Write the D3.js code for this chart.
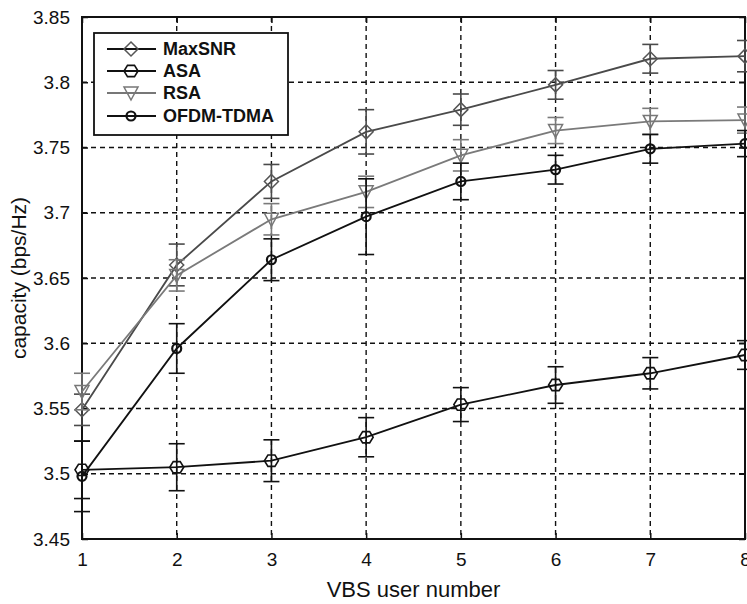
<!DOCTYPE html>
<html>
<head>
<meta charset="utf-8">
<script src="https://cdn.jsdelivr.net/npm/d3@7/dist/d3.min.js"></script>
<style>
  html, body { margin: 0; padding: 0; background: #fff; }
  svg { display: block; }
  text { font-family: "Liberation Sans", Arial, sans-serif; fill: #111; }
</style>
</head>
<body>
<svg id="chart" width="747" height="604"></svg>
<script>
// VBS user count on the x axis, capacity (bps/Hz) on the y axis
const users = [1, 2, 3, 4, 5, 6, 7, 8];

const maxSNR    = [3.549, 3.660, 3.724, 3.762, 3.779, 3.798, 3.818, 3.820];
const maxSNRErr = [0.012, 0.016, 0.013, 0.017, 0.012, 0.011, 0.011, 0.012];

const asa    = [3.503, 3.505, 3.510, 3.528, 3.553, 3.568, 3.577, 3.591];
const asaErr = [0.022, 0.018, 0.016, 0.015, 0.013, 0.014, 0.012, 0.011];

const rsa    = [3.563, 3.652, 3.695, 3.716, 3.744, 3.763, 3.770, 3.771];
const rsaErr = [0.014, 0.012, 0.012, 0.012, 0.012, 0.010, 0.010, 0.010];

const ofdm    = [3.498, 3.596, 3.664, 3.697, 3.724, 3.733, 3.749, 3.753];
const ofdmErr = [0.027, 0.019, 0.016, 0.029, 0.014, 0.011, 0.011, 0.010];

const seriesNames = ["MaxSNR", "ASA", "RSA", "OFDM-TDMA"];
const xTicks = [1, 2, 3, 4, 5, 6, 7, 8];
const yTicks = [3.45, 3.5, 3.55, 3.6, 3.65, 3.7, 3.75, 3.8, 3.85];

const series = [
  { name: seriesNames[0], values: maxSNR, err: maxSNRErr, line: "#4a4a4a", mark: "#555", legendLine: "#111", marker: "diamond" },
  { name: seriesNames[1], values: asa,    err: asaErr,    line: "#111",    mark: "#111", legendLine: "#111", marker: "hex" },
  { name: seriesNames[2], values: rsa,    err: rsaErr,    line: "#7a7a7a", mark: "#777", legendLine: "#777", marker: "tri" },
  { name: seriesNames[3], values: ofdm,   err: ofdmErr,   line: "#111",    mark: "#111", legendLine: "#111", marker: "dot" }
];

const L = 82, R = 745, T = 17, B = 539;
const svg = d3.select("#chart");
const x = d3.scaleLinear().domain([1, 8]).range([L, R]);
const y = d3.scaleLinear().domain([3.45, 3.85]).range([B, T]);

// dashed grid
const grid = svg.append("g").attr("stroke", "#111").attr("stroke-width", 1.4)
  .attr("stroke-dasharray", "5,4");
grid.selectAll("line.gx").data(xTicks.slice(1, -1)).join("line")
  .attr("x1", d => x(d)).attr("x2", d => x(d)).attr("y1", T).attr("y2", B);
grid.selectAll("line.gy").data(yTicks.slice(1, -1)).join("line")
  .attr("y1", d => y(d)).attr("y2", d => y(d)).attr("x1", L).attr("x2", R);

// axes
const xAxis = d3.axisBottom(x).tickValues(xTicks).tickSize(-6).tickPadding(14)
  .tickFormat(d3.format("d"));
const yAxis = d3.axisLeft(y).tickValues(yTicks).tickSize(-6).tickPadding(12)
  .tickFormat(d => String(+d.toFixed(2)));
const gx = svg.append("g").attr("transform", `translate(0,${B})`).call(xAxis);
const gy = svg.append("g").attr("transform", `translate(${L},0)`).call(yAxis);
const gxTop = svg.append("g").attr("transform", `translate(0,${T})`)
  .call(d3.axisTop(x).tickValues(xTicks).tickSize(-6).tickFormat(""));
const gyRight = svg.append("g").attr("transform", `translate(${R},0)`)
  .call(d3.axisRight(y).tickValues(yTicks).tickSize(-6).tickFormat(""));
[gx, gy, gxTop, gyRight].forEach(g => {
  g.select(".domain").remove();
  g.selectAll(".tick line").attr("stroke", "#111").attr("stroke-width", 1.5);
  g.selectAll(".tick text").style("font-size", "19px").attr("fill", "#222");
});

// frame
svg.append("rect").attr("x", L).attr("y", T).attr("width", R - L).attr("height", B - T)
  .attr("fill", "none").attr("stroke", "#111").attr("stroke-width", 2);

// marker shapes
function drawMarker(g, type, cx, cy, color) {
  if (type === "diamond") {
    g.append("path").attr("d", `M${cx},${cy - 7}L${cx + 7},${cy}L${cx},${cy + 7}L${cx - 7},${cy}Z`)
      .attr("fill", "none").attr("stroke", color).attr("stroke-width", 1.5);
  } else if (type === "hex") {
    const pts = d3.range(6).map(i => {
      const a = Math.PI / 3 * i;
      return [cx + 7 * Math.cos(a), cy + 6.5 * Math.sin(a)];
    });
    g.append("path").attr("d", "M" + pts.join("L") + "Z")
      .attr("fill", "none").attr("stroke", color).attr("stroke-width", 1.6);
  } else if (type === "tri") {
    g.append("path").attr("d", `M${cx - 7},${cy - 6}L${cx + 7},${cy - 6}L${cx},${cy + 7}Z`)
      .attr("fill", "none").attr("stroke", color).attr("stroke-width", 1.5);
  } else {
    g.append("circle").attr("cx", cx).attr("cy", cy).attr("r", 4.5)
      .attr("fill", "none").attr("stroke", color).attr("stroke-width", 2.2);
  }
}

// series: lines, error bars, markers
const line = d3.line().x(d => x(d[0])).y(d => y(d[1]));
series.forEach(s => {
  const g = svg.append("g");
  const pts = users.map((u, i) => [u, s.values[i]]);
  g.append("path").attr("d", line(pts)).attr("fill", "none")
    .attr("stroke", s.line).attr("stroke-width", 1.8);
  users.forEach((u, i) => {
    const cx = x(u), y0 = y(s.values[i] - s.err[i]), y1 = y(s.values[i] + s.err[i]);
    g.append("line").attr("x1", cx).attr("x2", cx).attr("y1", y0).attr("y2", y1)
      .attr("stroke", s.line).attr("stroke-width", 1.6);
    [y0, y1].forEach(yy => g.append("line").attr("x1", cx - 8).attr("x2", cx + 8)
      .attr("y1", yy).attr("y2", yy).attr("stroke", s.line).attr("stroke-width", 1.6));
    drawMarker(g, s.marker, cx, y(s.values[i]), s.mark);
  });
});

// legend
const leg = svg.append("g");
leg.append("rect").attr("x", 94).attr("y", 33).attr("width", 194).attr("height", 102)
  .attr("fill", "#fff").attr("stroke", "#111").attr("stroke-width", 1.8);
const rowY = [49, 71, 93, 116];
series.forEach((s, i) => {
  const yy = rowY[i];
  leg.append("line").attr("x1", 107).attr("x2", 156).attr("y1", yy).attr("y2", yy)
    .attr("stroke", s.legendLine).attr("stroke-width", 1.8);
  drawMarker(leg, s.marker, 131, yy, s.mark);
  leg.append("text").attr("x", 163).attr("y", yy + 6).text(s.name)
    .style("font-size", "18px").style("font-weight", "bold");
});

// axis titles
svg.append("text").attr("x", (L + R) / 2).attr("y", 597).attr("text-anchor", "middle")
  .style("font-size", "22px").attr("fill", "#222").text("VBS user number");
svg.append("text").attr("transform", `translate(26,${(T + B) / 2}) rotate(-90)`)
  .attr("text-anchor", "middle").style("font-size", "21px").attr("fill", "#222")
  .text("capacity (bps/Hz)");
</script>
</body>
</html>
